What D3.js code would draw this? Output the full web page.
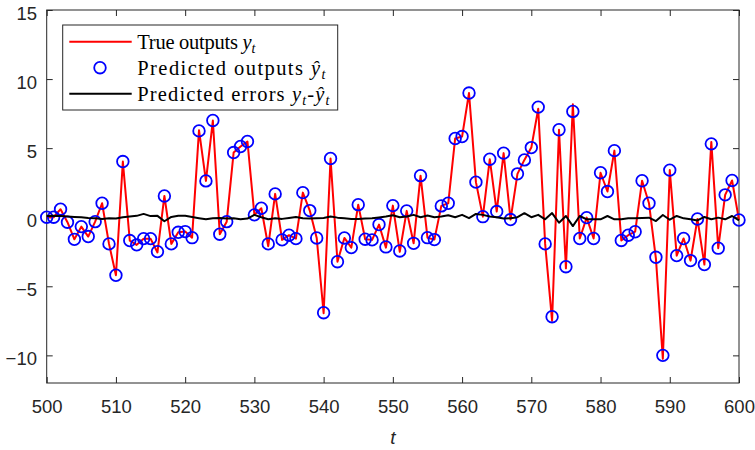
<!DOCTYPE html>
<html>
<head>
<meta charset="utf-8">
<script src="https://cdn.jsdelivr.net/npm/d3@7"></script>
<style>
	body { margin: 0; background: #fff; }
	svg { display: block; }
</style>
</head>
<body>
<svg id="chart" width="755" height="450"></svg>
<script>

// time steps 500..600
const steps = d3.range(500, 601);

// true outputs y_t
const trueY = [
	0.0, 0.0, 0.58, -0.36, -1.6, -0.68, -1.4, -0.32, 1.01, -1.93,
	-4.2, 4.03, -1.69, -2.0, -1.55, -1.55, -2.55, 1.54, -1.93, -1.09,
	-1.04, -1.48, 6.3, 2.63, 7.0, -1.23, -0.32, 4.68, 5.12, 5.48,
	0.17, 0.65, -2.1, 1.69, -1.64, -1.3, -1.55, 1.78, 0.48, -1.5,
	-6.95, 4.25, -3.22, -1.5, -2.2, 0.91, -1.59, -1.64, -0.53, -2.2,
	0.84, -2.5, 0.46, -1.89, 3.01, -1.48, -1.62, 0.82, 1.01, 5.7,
	5.84, 8.99, 2.54, 0.04, 4.2, 0.41, 4.64, -0.17, 3.14, 4.15,
	5.04, 7.85, -1.93, -7.5, 6.33, -3.7, 8.17, -1.54, -0.03, -1.54,
	3.22, 1.86, 4.82, -1.68, -1.3, -1.05, 2.64, 1.01, -3.0, -10.25,
	3.41, -2.78, -1.54, -3.14, -0.13, -3.43, 5.45, -2.24, 1.62, 2.66,
	-0.2
];

// predicted outputs (circles)
const predY = [
	0.0, 0.0, 0.58, -0.36, -1.6, -0.68, -1.4, -0.32, 1.01, -1.93,
	-4.2, 4.03, -1.69, -2.0, -1.55, -1.55, -2.49, 1.54, -1.93, -1.09,
	-1.04, -1.48, 6.25, 2.63, 7.0, -1.23, -0.32, 4.68, 5.12, 5.48,
	0.17, 0.65, -1.93, 1.69, -1.64, -1.3, -1.55, 1.78, 0.48, -1.5,
	-6.91, 4.25, -3.22, -1.5, -2.2, 0.91, -1.59, -1.64, -0.53, -2.15,
	0.84, -2.44, 0.46, -1.89, 3.01, -1.48, -1.62, 0.82, 1.01, 5.7,
	5.84, 8.99, 2.54, 0.04, 4.2, 0.41, 4.64, -0.17, 3.14, 4.15,
	5.04, 7.97, -1.93, -7.2, 6.33, -3.58, 7.66, -1.54, -0.03, -1.54,
	3.22, 1.86, 4.82, -1.68, -1.3, -1.05, 2.64, 1.01, -2.9, -10.0,
	3.41, -2.78, -1.54, -3.14, -0.13, -3.43, 5.31, -2.24, 1.62, 2.66,
	-0.2
];

// predicted errors
const errY = [
	0.09, 0.1, 0.08, 0.05, 0.02, 0.0, -0.05, -0.08, -0.12, -0.08,
	-0.1, 0.0, 0.05, 0.1, 0.24, 0.08, 0.1, -0.29, 0.02, 0.1,
	0.1, 0.02, -0.07, -0.15, -0.07, -0.05, -0.1, -0.08, -0.15, -0.1,
	0.17, 0.0, -0.15, -0.07, -0.12, -0.05, 0.02, -0.07, -0.1, -0.08,
	-0.05, 0.05, -0.03, -0.07, -0.12, -0.12, -0.1, -0.08, -0.02, 0.05,
	0.14, 0.0, 0.05, 0.17, 0.0, 0.12, 0.0, 0.05, 0.14, 0.0,
	0.17, -0.07, 0.24, 0.17, 0.05, 0.0, -0.1, -0.07, 0.0, 0.29,
	0.0, 0.17, -0.15, 0.3, -0.4, 0.09, -0.64, 0.09, -0.15, -0.15,
	-0.15, 0.09, -0.15, -0.15, -0.08, -0.08, -0.05, -0.03, -0.28, 0.16,
	-0.18, 0.09, -0.08, -0.15, -0.23, 0.02, -0.15, -0.03, -0.15, 0.09,
	-0.23
];

const xTicks = [500, 510, 520, 530, 540, 550, 560, 570, 580, 590, 600];
const yTicks = [-10, -5, 0, 5, 10, 15];

const legendItems = [
	{ kind: 'line', color: '#ff0000', width: 118, parts: [['True outputs ', 0, 0], ['y', 1, 0], ['t', 1, 1]] },
	{ kind: 'circle', color: '#0000ff', width: 188, parts: [['Predicted outputs ', 0, 0], ['ŷ', 1, 0], ['t', 1, 1]] },
	{ kind: 'line', color: '#000000', width: 192, parts: [['Predicted errors ', 0, 0], ['y', 1, 0], ['t', 1, 1], ['-', 0, 0], ['ŷ', 1, 0], ['t', 1, 1]] }
];

const box = { left: 46.7, right: 739, top: 10, bottom: 383 };
const axisColor = '#262626';
const tickFont = '18.5px "Liberation Sans", Arial, sans-serif';

const scale = {
	x: d3.scaleLinear().domain([500, 600]).range([box.left, box.right]),
	y: d3.scaleLinear().domain([-12, 15]).range([box.bottom, box.top])
};

const $svg = d3.select('#chart');

$svg.append('rect')
	.attr('width', 755).attr('height', 450).attr('fill', '#fff');

// axes (MATLAB style: inward ticks on all four sides)
const styleAxis = (g) => {
	g.select('.domain').remove();
	g.selectAll('line').attr('stroke', axisColor).attr('stroke-width', 1);
	g.selectAll('text')
		.attr('fill', axisColor)
		.style('font', tickFont);
};

$svg.append('g')
	.attr('transform', `translate(0,${box.bottom})`)
	.call(d3.axisBottom(scale.x).tickValues(xTicks).tickSize(-6).tickPadding(17))
	.call(styleAxis);

$svg.append('g')
	.attr('transform', `translate(0,${box.top})`)
	.call(d3.axisTop(scale.x).tickValues(xTicks).tickSize(-6).tickFormat(''))
	.call(styleAxis);

$svg.append('g')
	.attr('transform', `translate(${box.left},0)`)
	.call(d3.axisLeft(scale.y).tickValues(yTicks).tickSize(-6).tickPadding(9.7))
	.call(styleAxis)
	.selectAll('text').attr('dy', '0.5em');

$svg.append('g')
	.attr('transform', `translate(${box.right},0)`)
	.call(d3.axisRight(scale.y).tickValues(yTicks).tickSize(-6).tickFormat(''))
	.call(styleAxis);

$svg.append('rect')
	.attr('x', box.left).attr('y', box.top)
	.attr('width', box.right - box.left).attr('height', box.bottom - box.top)
	.attr('fill', 'none').attr('stroke', axisColor).attr('stroke-width', 1);

$svg.append('text')
	.attr('x', (box.left + box.right) / 2).attr('y', 444)
	.attr('text-anchor', 'middle')
	.attr('fill', axisColor)
	.style('font', 'italic 19px "Liberation Sans", Arial, sans-serif')
	.text('t');

// series
const lineOf = (values) => d3.line()
	.x((d, i) => scale.x(steps[i]))
	.y((d) => scale.y(d))(values);

$svg.append('path')
	.attr('d', lineOf(trueY))
	.attr('fill', 'none').attr('stroke', '#ff0000').attr('stroke-width', 2)
	.attr('stroke-linejoin', 'round');

$svg.append('g')
	.selectAll('circle')
	.data(predY)
	.enter()
	.append('circle')
	.attr('cx', (d, i) => scale.x(steps[i]))
	.attr('cy', (d) => scale.y(d))
	.attr('r', 5.8)
	.attr('fill', 'none').attr('stroke', '#0000ff').attr('stroke-width', 1.8);

$svg.append('path')
	.attr('d', lineOf(errY))
	.attr('fill', 'none').attr('stroke', '#000').attr('stroke-width', 2)
	.attr('stroke-linejoin', 'round');

// legend
const legend = { x: 62.7, y: 25, w: 275, h: 85, row: 26 };
const $legend = $svg.append('g');

$legend.append('rect')
	.attr('x', legend.x).attr('y', legend.y)
	.attr('width', legend.w).attr('height', legend.h)
	.attr('fill', '#fff').attr('stroke', axisColor).attr('stroke-width', 1);

legendItems.forEach((item, i) => {
	const cy = legend.y + 16.7 + i * legend.row;
	if (item.kind == 'line') {
		$legend.append('line')
			.attr('x1', legend.x + 6.6).attr('x2', legend.x + 69)
			.attr('y1', cy).attr('y2', cy)
			.attr('stroke', item.color).attr('stroke-width', 2);
	} else {
		$legend.append('circle')
			.attr('cx', legend.x + 37.3).attr('cy', cy).attr('r', 5.8)
			.attr('fill', 'none').attr('stroke', item.color).attr('stroke-width', 1.8);
	}
	const $text = $legend.append('text')
		.attr('x', legend.x + 74.6).attr('y', cy + 6.8)
		.attr('fill', '#000')
		.attr('textLength', item.width)
		.attr('lengthAdjust', 'spacing')
		.style('font', '20.5px "Liberation Serif", "Times New Roman", serif');
	let shifted = false;
	item.parts.forEach(([str, italic, sub]) => {
		const $span = $text.append('tspan')
			.style('font-style', italic ? 'italic' : 'normal')
			.text(str);
		if (sub && !shifted) { $span.attr('dy', 4).style('font-size', '14px'); shifted = true; }
		else if (!sub && shifted) { $span.attr('dy', -4); shifted = false; }
	});
});

</script>
</body>
</html>
